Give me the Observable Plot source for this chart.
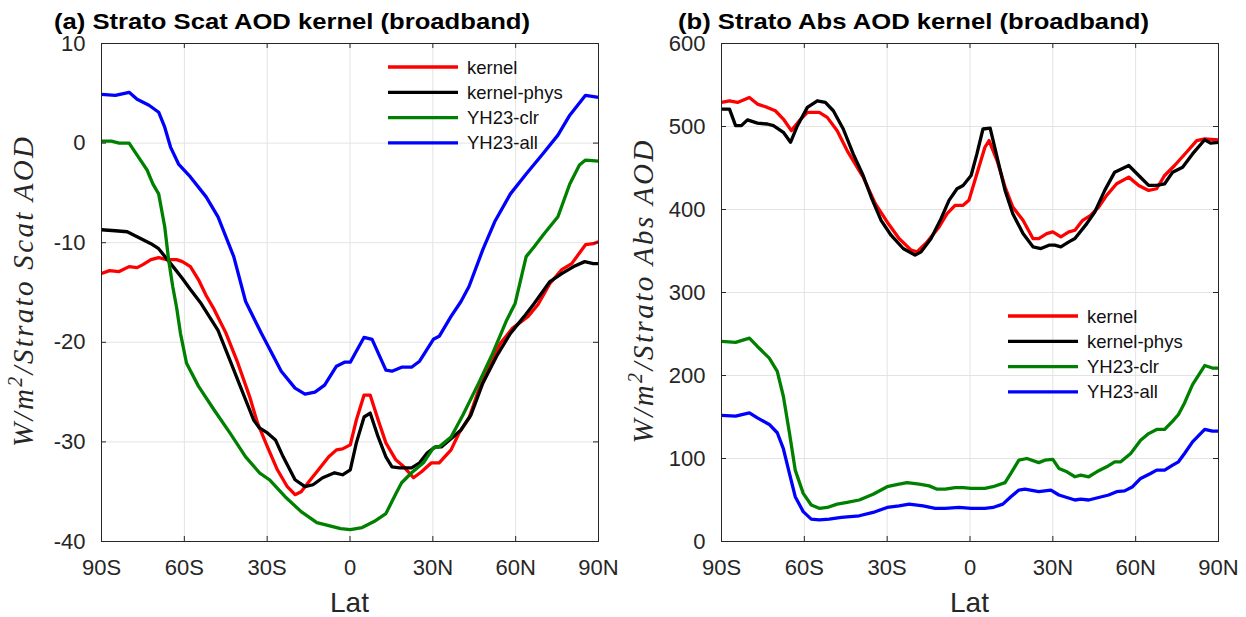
<!DOCTYPE html>
<html><head><meta charset="utf-8">
<script src="https://cdn.jsdelivr.net/npm/d3@7"></script>
<script src="https://cdn.jsdelivr.net/npm/@observablehq/plot@0.6"></script>
<style>
html,body{margin:0;padding:0;background:#fff;}
#wrap{position:relative;width:1246px;height:617px;overflow:hidden;font-family:"Liberation Sans",Arial,sans-serif;}
.panel{position:absolute;top:0;width:620px;height:617px;}
#overlay{position:absolute;left:0;top:0;pointer-events:none;}
</style></head><body>
<div id="wrap">
<div id="pa" class="panel" style="left:0px"></div>
<div id="pb" class="panel" style="left:620px"></div>
<svg id="overlay" width="1246" height="617"></svg>
</div>
<script>
// ---------- data ----------
const latTicks = [-90, -60, -30, 0, 30, 60, 90];
const latTickLabels = ["90S", "60S", "30S", "0", "30N", "60N", "90N"];
const seriesNames = ["kernel", "kernel-phys", "YH23-clr", "YH23-all"];
const seriesColors = ["#ff0000", "#000000", "#008000", "#0000ff"];

const scatTicks = [-40, -30, -20, -10, 0, 10];
const absTicks = [0, 100, 200, 300, 400, 500, 600];

// (a) Strato Scat AOD kernel
const aKernelLat = [-90,-87.1,-83.6,-80,-77.1,-75,-72.1,-69.3,-66.4,-62.8,-60.7,-57.8,-54.9,-52.1,-49.2,-44.9,-40.6,-36.3,-33.5,-29.9,-26.3,-22.7,-19.9,-17.7,-14.9,-12,-7.7,-4.9,-2.7,0.1,2.3,5.1,7.3,10.2,13,16.6,19.5,23,25.9,29.5,32.3,36.6,39.5,43.1,46.6,50.9,54.5,58.8,64.5,68.1,72.4,76.7,80.3,85.3,88.1,90];
const aKernel = [-13.1,-12.8,-12.9,-12.4,-12.5,-12.2,-11.7,-11.5,-11.7,-11.7,-11.9,-12.4,-13.7,-15.3,-16.7,-19.1,-22.1,-25.5,-28.1,-30.5,-32.8,-34.5,-35.3,-35.0,-34.0,-33.0,-31.5,-30.8,-30.7,-30.3,-27.8,-25.3,-25.3,-27.8,-30.1,-31.8,-32.5,-33.6,-33.0,-32.1,-32.1,-30.8,-29.1,-27.6,-24.8,-22.1,-20.1,-18.6,-17.4,-16.2,-14.1,-12.7,-12.1,-10.2,-10.1,-9.9];
const aPhysLat = [-90,-85,-80.7,-77.1,-72.1,-69.3,-66.4,-63.5,-60.7,-57.8,-54.2,-47.8,-43.5,-39.2,-34.9,-32.8,-29.9,-27,-24.2,-19.9,-16.3,-13.4,-9.9,-5.6,-2.7,0.1,2.3,5.1,7.3,10.2,13,15.2,18,22.3,25.2,28,30.9,33.1,37.3,40.2,43.8,48.1,53.1,58.1,63.1,66.7,72.4,76.7,81,85,88.1,90];
const aPhys = [-8.7,-8.8,-8.9,-9.4,-10.1,-10.6,-11.6,-12.6,-13.6,-14.7,-16.0,-18.8,-21.8,-24.8,-27.8,-28.6,-29.1,-29.8,-31.5,-33.8,-34.5,-34.3,-33.6,-33.1,-33.3,-32.8,-30.1,-27.5,-27.1,-29.5,-31.5,-32.5,-32.6,-32.6,-32.1,-31.1,-30.5,-30.5,-29.5,-28.8,-27.3,-24.1,-21.4,-19.1,-17.4,-16.1,-13.9,-13.1,-12.4,-11.9,-12.1,-12.1];
const aClrLat = [-90,-86.4,-83.6,-80,-77.1,-73.5,-71.4,-69.3,-67.1,-65.7,-64.2,-62.8,-61.4,-59.2,-54.9,-49.2,-43.5,-37.8,-32.8,-29.2,-23.5,-17.7,-12,-7.7,-3.4,0.1,4.4,8.7,13,16.6,18.7,22.3,26.6,30.2,32.3,36.6,40.9,46.6,51.7,56.7,59.8,63.8,66.7,70.3,75.3,79.6,83.1,85.3,90];
const aClr = [0.2,0.2,0,0,-1.2,-2.7,-4.1,-5.1,-8.4,-11.7,-14.4,-16.5,-19.1,-22.1,-24.4,-26.8,-29.1,-31.5,-33.1,-33.8,-35.5,-37.0,-38.1,-38.4,-38.7,-38.8,-38.6,-38.0,-37.2,-35.2,-34.1,-33.1,-32.1,-30.6,-30.5,-29.5,-27.3,-24.1,-21.1,-17.8,-16.1,-11.4,-10.4,-9.1,-7.4,-4.1,-2.2,-1.7,-1.8];
const aAllLat = [-90,-85,-80,-77.1,-72.8,-69.3,-67.1,-65,-62.1,-57.8,-52.1,-47.8,-42.1,-37.8,-32.1,-24.9,-19.9,-16.3,-12.7,-9.2,-4.9,-2,0.1,5.1,8,13,15.2,18.7,22.3,25.2,30.2,32.3,36.6,40.2,43.1,48.1,52.4,58.1,63.8,69.5,75.3,79.6,85.3,90];
const aAll = [4.9,4.8,5.1,4.4,3.8,3.1,1.6,-0.4,-2.1,-3.4,-5.4,-7.4,-11.4,-15.9,-19.1,-22.9,-24.6,-25.2,-25.0,-24.3,-22.4,-22.0,-22.0,-19.5,-19.7,-22.8,-22.9,-22.5,-22.5,-21.9,-19.7,-19.4,-17.4,-15.9,-14.4,-10.7,-7.9,-5.1,-3.1,-1.2,0.8,2.8,4.8,4.6];

// (b) Strato Abs AOD kernel
const bKernelLat = [-90,-87.1,-84.2,-79.9,-77,-73.4,-70.5,-67.6,-64.7,-61.8,-58.9,-54.6,-51.7,-48.1,-44.5,-38.7,-34.3,-30,-25.7,-21.3,-19.2,-15.5,-11.2,-8.3,-5.4,-2.5,-0.4,2.5,5.4,6.9,9.8,12.7,15.5,19.2,22.8,24.9,27.8,30,32.9,35.8,38,40.8,43.7,46.6,49.5,53.1,57.5,61.1,64.7,67.6,70.5,74.1,78.4,82.1,85,90];
const bKernel = [529,531,529,535,527,523,519,509,495,507,517,517,511,495,471,439,407,385,365,351,349,361,379,395,405,405,411,443,475,483,459,427,403,387,365,365,371,373,367,373,375,387,393,403,417,431,439,429,423,425,441,453,469,483,485,484];
const bPhysLat = [-90,-87.1,-84.9,-82.8,-80.6,-77,-73.4,-71.2,-67.6,-65,-62.5,-58.9,-55.3,-52.4,-49.5,-45.9,-42.3,-38.7,-35.8,-32.2,-28.6,-24.2,-19.9,-17.7,-14.1,-10.5,-7.6,-4.7,-2.5,0.4,2.5,4.7,7.3,9.8,12.7,15.5,19.2,22.8,25.7,28.6,30.7,32.9,35.8,38,42.3,45.2,48.8,52.4,57.5,61.1,64.7,67.6,70.5,73.4,77,80.6,85,87.1,90];
const bPhys = [521,521,501,501,508,504,503,501,493,481,501,523,531,529,519,497,467,441,415,387,369,353,345,349,365,389,411,425,429,441,467,497,498,463,423,395,371,355,353,357,357,355,361,365,383,397,423,445,453,441,429,429,431,445,451,467,484,480,481];
const bClrLat = [-90,-84.9,-79.9,-77,-72.7,-69.8,-67.6,-65.4,-63.3,-60.4,-57.5,-54.6,-51.7,-48.1,-44.5,-40.1,-35.1,-30,-25.7,-22.8,-18.4,-14.8,-11.9,-9,-5.4,-2.5,0.4,5.4,8.3,12.7,14.8,17.7,20.6,24.9,27.1,30,32.2,35.1,38,40.1,43,45.9,49.5,52.4,54.6,58.2,61.8,64.7,67.6,70.5,73.4,75.5,77.7,80.6,85,87.8,90];
const bClr = [241,240,245,235,221,205,175,131,86,58,44,40,41,45,47,50,57,66,69,71,69,67,63,63,65,65,64,64,66,71,82,98,100,95,98,99,88,84,78,80,78,84,90,96,96,106,122,130,135,135,145,153,167,189,212,209,209];
const bAllLat = [-90,-84.9,-79.9,-77,-72.7,-69.8,-67.6,-65.4,-63.3,-60.4,-57.5,-54.6,-51,-46.6,-40.1,-35.1,-30,-25.7,-22,-17,-12.6,-9,-4,0.4,5.4,8.3,11.9,14.8,17.7,19.9,24.9,29.3,32.2,35.1,38,40.1,43,46.6,50.2,53.1,56,58.9,61.8,65.4,67.6,70.5,73.4,75.5,77.7,80.6,85,87.8,90];
const bAll = [152,151,155,149,141,131,112,82,54,36,27,26,27,29,31,35,41,43,45,43,40,40,41,40,40,41,45,54,62,63,60,62,56,53,50,51,50,53,56,60,61,66,76,82,86,86,92,96,106,120,135,133,133];

// ---------- layout / style ----------
const W = 620, H = 617;
const M = {top: 43, bottom: 76, left: 101, right: 22};
const PW = W - M.left - M.right, PH = H - M.top - M.bottom;
const TICK = 5;
const gridColor = "#e3e3e3";
const axisColor = "#262626";
const fontFamily = "'Liberation Sans', Arial, Helvetica, sans-serif";

function makePanel(yDomain, yTicks, series) {
  const marks = [
    Plot.gridX(latTicks, {stroke: gridColor, strokeOpacity: 1}),
    Plot.gridY(yTicks, {stroke: gridColor, strokeOpacity: 1})
  ];
  series.forEach(([lats, vals], i) => {
    const rows = lats.map((la, j) => ({lat: la, v: vals[j]}));
    marks.push(Plot.line(rows, {x: "lat", y: "v", stroke: seriesColors[i], strokeWidth: 3.3,
      strokeLinejoin: "round", strokeLinecap: "butt"}));
  });
  marks.push(Plot.frame({stroke: axisColor, strokeWidth: 1}));
  // inward ticks on all four sides
  marks.push(Plot.tickX(latTicks, {x: d => d, insetTop: PH - TICK, stroke: axisColor}));
  marks.push(Plot.tickX(latTicks, {x: d => d, insetBottom: PH - TICK, stroke: axisColor}));
  marks.push(Plot.tickY(yTicks, {y: d => d, insetRight: PW - TICK, stroke: axisColor}));
  marks.push(Plot.tickY(yTicks, {y: d => d, insetLeft: PW - TICK, stroke: axisColor}));
  // tick labels
  marks.push(Plot.axisX({ticks: latTicks, anchor: "bottom", tickSize: 0, tickPadding: 18, fontSize: 22,
    tickFormat: d => latTickLabels[latTicks.indexOf(d)], label: null, color: axisColor}));
  marks.push(Plot.axisY({ticks: yTicks, anchor: "left", tickSize: 0, tickPadding: 16, fontSize: 22,
    tickFormat: d => String(d), label: null, color: axisColor}));
  return Plot.plot({
    width: W, height: H,
    marginTop: M.top, marginBottom: M.bottom, marginLeft: M.left, marginRight: M.right,
    style: {fontFamily, overflow: "visible", background: "transparent"},
    x: {domain: [-90, 90]},
    y: {domain: yDomain},
    marks
  });
}

document.getElementById("pa").appendChild(makePanel([-40, 10], scatTicks,
  [[aKernelLat, aKernel], [aPhysLat, aPhys], [aClrLat, aClr], [aAllLat, aAll]]));
document.getElementById("pb").appendChild(makePanel([0, 600], absTicks,
  [[bKernelLat, bKernel], [bPhysLat, bPhys], [bClrLat, bClr], [bAllLat, bAll]]));

// ---------- overlay texts & legends ----------
const ov = d3.select("#overlay");
const panels = [
  {off: 0, title: "(a) Strato Scat AOD kernel (broadband)", titleX: 54, titleLen: 476, yword: "Scat", ylen: 310, legY: 67},
  {off: 620, title: "(b) Strato Abs AOD kernel (broadband)", titleX: 678, titleLen: 471, yword: "Abs", ylen: 303, legY: 316}
];
panels.forEach(p => {
  ov.append("text").attr("x", p.titleX).attr("y", 28.5)
    .attr("font-family", fontFamily).attr("font-weight", "bold").attr("font-size", 22)
    .attr("textLength", p.titleLen).attr("lengthAdjust", "spacingAndGlyphs")
    .attr("fill", "#000").text(p.title);
  const cx = p.off + M.left + PW / 2;
  ov.append("text").attr("x", cx).attr("y", 612).attr("text-anchor", "middle")
    .attr("font-family", fontFamily).attr("font-size", 28).attr("fill", axisColor).text("Lat");
  const cy = M.top + PH / 2;
  const yl = ov.append("text").attr("transform", `translate(${p.off + 33},${cy}) rotate(-90)`)
    .attr("text-anchor", "middle").attr("font-family", "'Liberation Serif', 'DejaVu Serif', serif")
    .attr("font-style", "italic").attr("font-size", 29).attr("fill", axisColor)
    .attr("textLength", p.ylen).attr("lengthAdjust", "spacing");
  yl.append("tspan").text("W/m");
  yl.append("tspan").attr("dy", -11).attr("font-size", 20).text("2");
  yl.append("tspan").attr("dy", 11).text(`/Strato ${p.yword} AOD`);
  const x0 = p.off + 388;
  seriesNames.forEach((name, i) => {
    const y = p.legY + i * 25.3;
    ov.append("line").attr("x1", x0).attr("x2", x0 + 70).attr("y1", y).attr("y2", y)
      .attr("stroke", seriesColors[i]).attr("stroke-width", 3.3);
    ov.append("text").attr("x", x0 + 79).attr("y", y + 6.5)
      .attr("font-family", fontFamily).attr("font-size", 18.5).attr("fill", "#111").text(name);
  });
});
</script>
</body></html>
